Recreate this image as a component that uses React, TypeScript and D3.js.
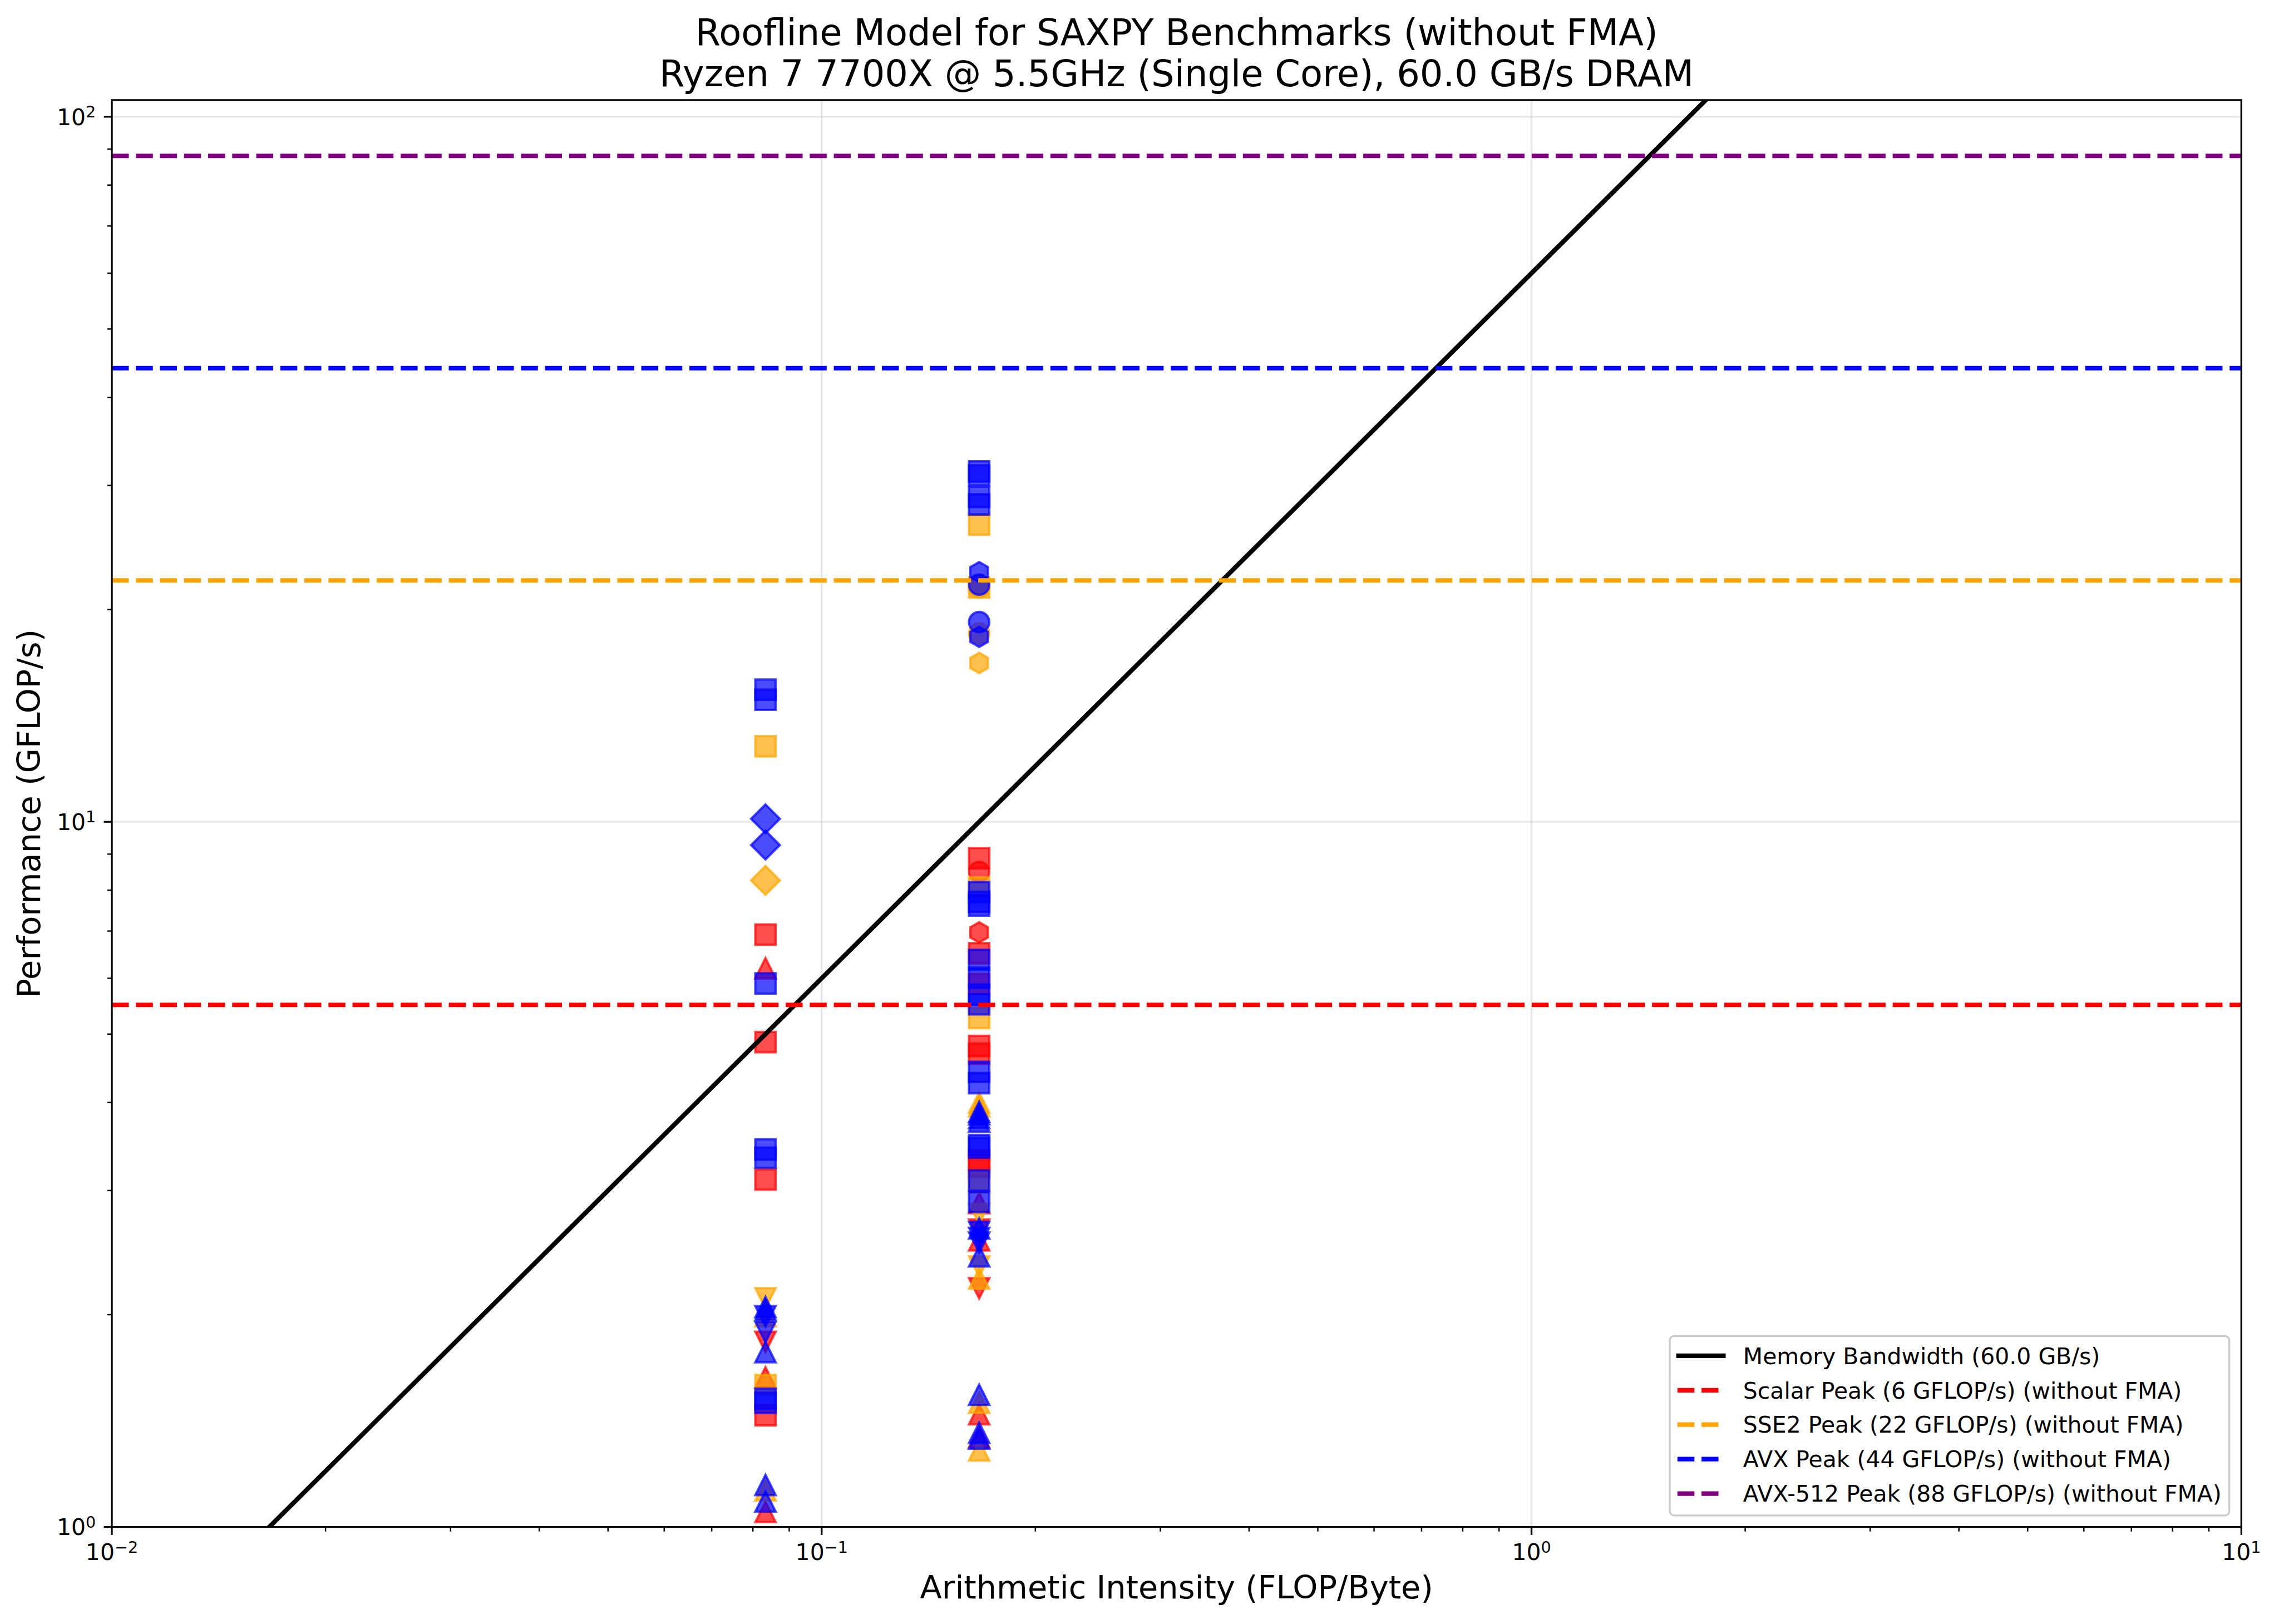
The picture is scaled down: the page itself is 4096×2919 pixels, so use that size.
import React from "react";
import * as d3 from "d3";

// arithmetic intensity of the two benchmark groups (double, float)
const intensities = [1 / 12, 1 / 6];

const bandwidth = 60.0;
const peakNames = ["Scalar", "SSE2", "AVX", "AVX-512"];
const peakValues = [5.5, 22, 44, 88];
const peakColors = ["red", "orange", "blue", "purple"];

const xTicks = [0.01, 0.1, 1, 10];
const xTickExp = ["−2", "−1", "0", "1"];
const yTicks = [1, 10, 100];
const yTickExp = ["0", "1", "2"];

// [intensity index, marker, GFLOP/s]
type Pt = [number, string, number];

const scalarPoints: Pt[] = [
  [0, "s", 6.92], [0, "^", 6.2], [0, "s", 4.87], [0, "s", 3.11],
  [0, "v", 1.83], [0, "^", 1.63], [0, "s", 1.44], [0, "^", 1.05],
  [1, "s", 8.88], [1, "o", 8.49], [1, "h", 6.97], [1, "s", 6.51],
  [1, "s", 5.89], [1, "s", 4.81], [1, "s", 4.69], [1, "s", 3.31],
  [1, "s", 3.24], [1, "^", 2.88], [1, "v", 2.64], [1, "^", 2.55],
  [1, "v", 2.18], [1, "^", 1.445], [1, "^", 1.34],
];

const sse2Points: Pt[] = [
  [0, "s", 12.8], [0, "D", 8.26], [0, "v", 2.11], [0, "^", 1.99],
  [0, "s", 1.59], [0, "^", 1.127],
  [1, "s", 26.4], [1, "s", 21.5], [1, "o", 21.5], [1, "o", 18.5],
  [1, "h", 16.8], [1, "s", 8.07], [1, "s", 5.27], [1, "^", 4.0],
  [1, "^", 3.95], [1, "s", 3.08], [1, "v", 2.78], [1, "v", 2.34],
  [1, "^", 2.25], [1, "^", 1.5], [1, "^", 1.284],
];

const avxPoints: Pt[] = [
  [0, "s", 15.4], [0, "s", 14.9], [0, "D", 10.1], [0, "D", 9.27],
  [0, "s", 5.9], [0, "s", 3.43], [0, "s", 3.34], [0, "^", 2.05],
  [0, "^", 2.03], [0, "v", 1.99], [0, "v", 1.89], [0, "^", 1.77],
  [0, "s", 1.52], [0, "s", 1.5], [0, "^", 1.147], [0, "^", 1.087],
  [1, "s", 31.4], [1, "s", 31.0], [1, "s", 28.9], [1, "s", 28.2],
  [1, "h", 22.6], [1, "o", 21.7], [1, "o", 19.2], [1, "h", 18.3],
  [1, "s", 7.95], [1, "s", 7.7], [1, "s", 7.61], [1, "s", 6.37],
  [1, "s", 6.01], [1, "s", 5.69], [1, "s", 5.51], [1, "s", 4.42],
  [1, "s", 4.26], [1, "^", 3.88], [1, "^", 3.85], [1, "^", 3.8],
  [1, "^", 3.76], [1, "s", 3.48], [1, "s", 3.45], [1, "s", 3.1],
  [1, "s", 2.89], [1, "^", 2.65], [1, "v", 2.62], [1, "v", 2.57],
  [1, "v", 2.53], [1, "^", 2.42], [1, "^", 1.54], [1, "^", 1.36],
  [1, "^", 1.335],
];

const pointSets: [Pt[], string][] = [
  [scalarPoints, "red"],
  [sse2Points, "orange"],
  [avxPoints, "blue"],
];

const W = 4164;
const H = 2967;
const K = 0.983;
const PT = 300 / 72;
const left = 204.5, right = 4098, top = 183, bottom = 2792;
const FONT = "DejaVu Sans";

const x = d3.scaleLog().domain([0.01, 10]).range([left, right]);
const y = d3.scaleLog().domain([1, peakValues[3] * 1.2]).range([bottom, top]);

const M = Math.sqrt(80) * PT; // scatter s=80

function markerPath(m: string): string {
  const r = M / 2;
  if (m === "s") return `M${-r},${-r}H${r}V${r}H${-r}Z`;
  if (m === "^") return `M0,${-r}L${r},${r}L${-r},${r}Z`;
  if (m === "v") return `M0,${r}L${r},${-r}L${-r},${-r}Z`;
  if (m === "D") {
    const d = M / Math.SQRT2;
    return `M0,${-d}L${d},0L0,${d}L${-d},0Z`;
  }
  if (m === "h") {
    const pts = d3.range(6).map((k) => {
      const a = (k * Math.PI) / 3;
      return [r * Math.sin(a), -r * Math.cos(a)];
    });
    return "M" + pts.map((p) => p.join(",")).join("L") + "Z";
  }
  return d3.arc()({ innerRadius: 0, outerRadius: r, startAngle: 0, endAngle: 2 * Math.PI } as any) || "";
}

const minorX = [-2, -1, 0].flatMap((e) => d3.range(2, 10).map((m) => m * 10 ** e));
const minorY = [0, 1].flatMap((e) => d3.range(2, 10).map((m) => m * 10 ** e));

const legendItems = [
  { label: `Memory Bandwidth (${bandwidth.toFixed(1)} GB/s)`, color: "black", dash: "" },
  ...peakNames.map((n, i) => ({
    label: `${n} Peak (${Math.round(peakValues[i])} GFLOP/s) (without FMA)`,
    color: peakColors[i],
    dash: "31,13",
  })),
];

export default function App() {
  const fs = 10 * PT;
  const lw = 2 * PT;
  const roof = [0.01, 10].map((a) => [x(a), y(a * bandwidth)]);
  return (
    <svg
      width={4096}
      height={2919}
      style={{ position: "absolute", left: 0, top: 0, background: "white" }}
      fontFamily={FONT}
    >
      <rect width={4096} height={2919} fill="white" />
      <g transform={`scale(${K})`}>
        <defs>
          <clipPath id="plot">
            <rect x={left} y={top} width={right - left} height={bottom - top} />
          </clipPath>
        </defs>
        {/* grid */}
        {xTicks.map((t) => (
          <line key={"gx" + t} x1={x(t)} x2={x(t)} y1={top} y2={bottom} stroke="#b0b0b0" strokeOpacity={0.3} strokeWidth={0.8 * PT} />
        ))}
        {yTicks.map((t) => (
          <line key={"gy" + t} x1={left} x2={right} y1={y(t)} y2={y(t)} stroke="#b0b0b0" strokeOpacity={0.3} strokeWidth={0.8 * PT} />
        ))}
        {/* points */}
        <g clipPath="url(#plot)">
          {pointSets.map(([pts, c]) =>
            pts.map(([i, m, v], k) => (
              <path
                key={c + k}
                d={markerPath(m)}
                transform={`translate(${x(intensities[i])},${y(v)})`}
                fill={c}
                fillOpacity={0.7}
                stroke={c}
                strokeOpacity={0.7}
                strokeWidth={1.0 * PT}
              />
            ))
          )}
          {/* roofline */}
          <line x1={roof[0][0]} y1={roof[0][1]} x2={roof[1][0]} y2={roof[1][1]} stroke="black" strokeWidth={lw} />
          {peakValues.map((p, i) => (
            <line key={"pk" + i} x1={left} x2={right} y1={y(p)} y2={y(p)} stroke={peakColors[i]} strokeWidth={lw} strokeDasharray="31,13" />
          ))}
        </g>
        {/* spines */}
        <rect x={left} y={top} width={right - left} height={bottom - top} fill="none" stroke="black" strokeWidth={0.8 * PT} />
        {/* x ticks */}
        {xTicks.map((t, i) => (
          <g key={"xt" + t}>
            <line x1={x(t)} x2={x(t)} y1={bottom} y2={bottom + 3.5 * PT} stroke="black" strokeWidth={0.8 * PT} />
            <text x={x(t)} y={bottom + 61} textAnchor="middle" fontSize={fs}>
              10<tspan dy={-14} fontSize={fs * 0.7}>{xTickExp[i]}</tspan>
            </text>
          </g>
        ))}
        {minorX.map((t) => (
          <line key={"mx" + t} x1={x(t)} x2={x(t)} y1={bottom} y2={bottom + 2 * PT} stroke="black" strokeWidth={0.6 * PT} />
        ))}
        {/* y ticks */}
        {yTicks.map((t, i) => (
          <g key={"yt" + t}>
            <line x1={left} x2={left - 3.5 * PT} y1={y(t)} y2={y(t)} stroke="black" strokeWidth={0.8 * PT} />
            <text x={left - 7 * PT} y={y(t) + 15} textAnchor="end" fontSize={fs}>
              10<tspan dy={-14} fontSize={fs * 0.7}>{yTickExp[i]}</tspan>
            </text>
          </g>
        ))}
        {minorY.map((t) => (
          <line key={"my" + t} x1={left} x2={left - 2 * PT} y1={y(t)} y2={y(t)} stroke="black" strokeWidth={0.6 * PT} />
        ))}
        {/* labels */}
        <text x={(left + right) / 2} y={2923} textAnchor="middle" fontSize={14 * PT}>
          Arithmetic Intensity (FLOP/Byte)
        </text>
        <text transform={`translate(73,${(top + bottom) / 2}) rotate(-90)`} textAnchor="middle" fontSize={14 * PT}>
          Performance (GFLOP/s)
        </text>
        <text x={(left + right) / 2} y={82} textAnchor="middle" fontSize={16 * PT}>
          Roofline Model for SAXPY Benchmarks (without FMA)
        </text>
        <text x={(left + right) / 2} y={158} textAnchor="middle" fontSize={16 * PT}>
          Ryzen 7 7700X @ 5.5GHz (Single Core), {bandwidth.toFixed(1)} GB/s DRAM
        </text>
        {/* legend */}
        <rect x={3053} y={2443} width={1023} height={328} rx={8} fill="white" fillOpacity={0.8} stroke="#cccccc" strokeWidth={0.8 * PT} />
        {legendItems.map((it, i) => {
          const ly = 2479 + i * 63;
          return (
            <g key={"lg" + i}>
              <line
                x1={it.dash ? 3067 : 3069}
                x2={it.dash ? 3150 : 3151}
                y1={ly}
                y2={ly}
                stroke={it.color}
                strokeWidth={lw}
                strokeDasharray={it.dash || undefined}
                strokeLinecap={it.dash ? "butt" : "square"}
              />
              <text x={3187} y={ly + 15} fontSize={fs}>
                {it.label}
              </text>
            </g>
          );
        })}
      </g>
    </svg>
  );
}
